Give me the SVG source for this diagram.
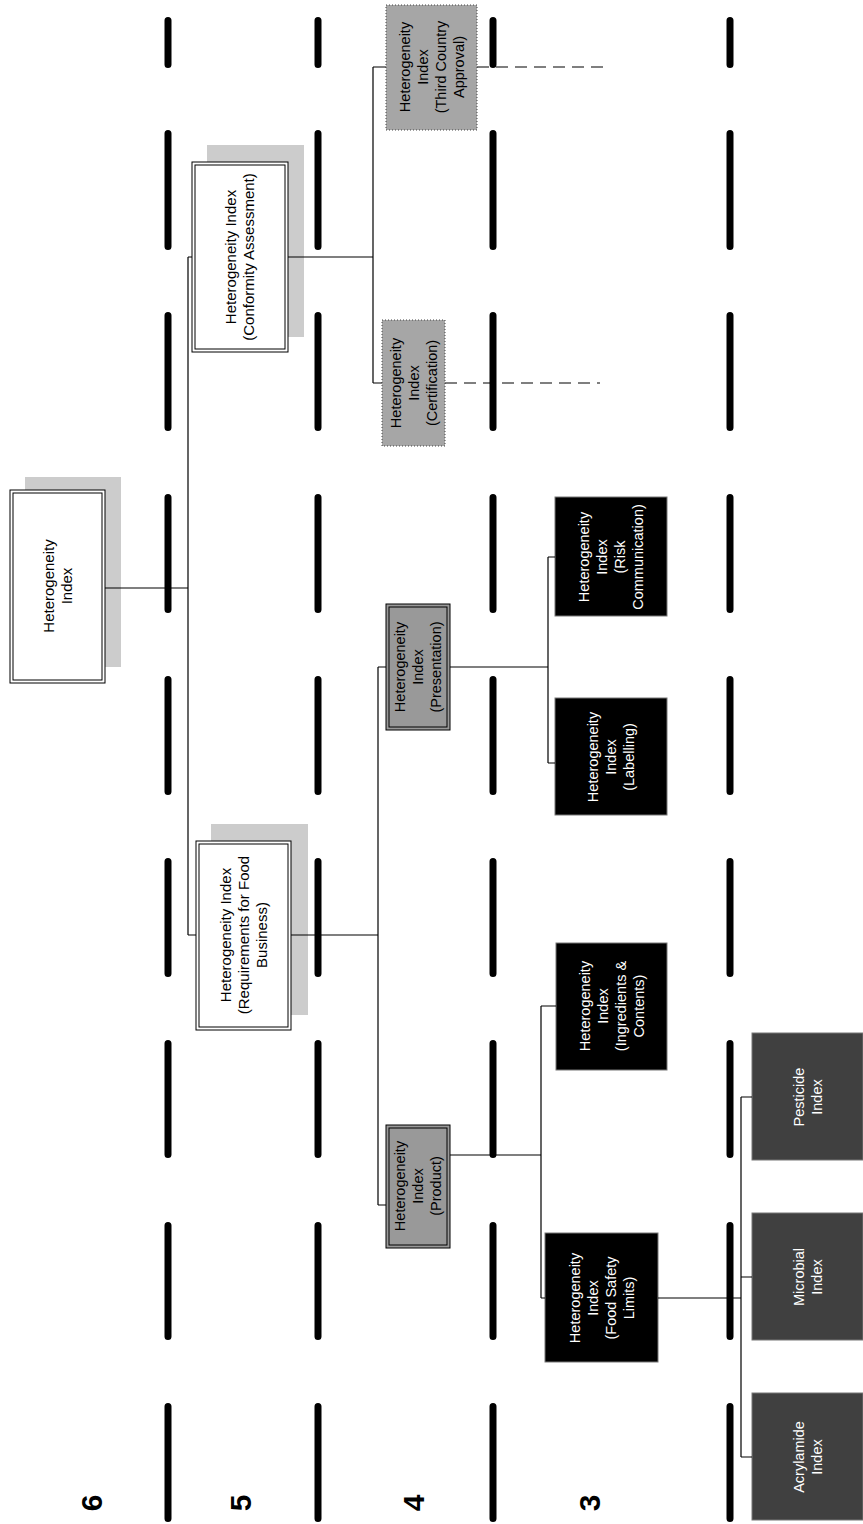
<svg xmlns="http://www.w3.org/2000/svg" width="863" height="1524" viewBox="0 0 863 1524">
<style>
.dash{stroke:#000;stroke-width:7;stroke-linecap:round;fill:none}
.conn{stroke:#000;stroke-width:1.2;fill:none}
.dconn{stroke:#000;stroke-width:1.2;fill:none;stroke-dasharray:12 7}
.shadow{fill:#cccccc}
.wbox{fill:#fff;stroke:#000;stroke-width:1}
.wboxin{fill:none;stroke:#000;stroke-width:1}
.gbox{fill:#999999;stroke:#000;stroke-width:1}
.gboxin{fill:none;stroke:#000;stroke-width:1}
.dotbox{fill:#a6a6a6;stroke:#444;stroke-width:1;stroke-dasharray:1 2}
.bbox{fill:#000;stroke:#777;stroke-width:1}
.dbox{fill:#404040;stroke:#777;stroke-width:1}
.t{font-family:"Liberation Sans",Arial,sans-serif;font-size:15px;text-anchor:middle;fill:#000}
.tw{font-family:"Liberation Sans",Arial,sans-serif;font-size:14.5px;text-anchor:middle;fill:#fff}
.tg{font-family:"Liberation Sans",Arial,sans-serif;font-size:14.5px;text-anchor:middle;fill:#000}
.lvl{font-family:"Liberation Sans",Arial,sans-serif;font-size:30px;font-weight:bold;text-anchor:middle;fill:#000}
</style>
<g id="level-bands">
<path class="dash" d="M168 20.5V64.5M168 133.5V246.5M168 315.5V427.5M168 497.5V609.5M168 679.5V791.5M168 861.5V973.5M168 1043.5V1154.5M168 1225.5V1336.5M168 1406.5V1518.5"/>
<path class="dash" d="M318 20.5V64.5M318 133.5V246.5M318 315.5V427.5M318 497.5V609.5M318 679.5V791.5M318 861.5V973.5M318 1043.5V1154.5M318 1225.5V1336.5M318 1406.5V1518.5"/>
<path class="dash" d="M493 20.5V64.5M493 133.5V246.5M493 315.5V427.5M493 497.5V609.5M493 679.5V791.5M493 861.5V973.5M493 1043.5V1154.5M493 1225.5V1336.5M493 1406.5V1518.5"/>
<path class="dash" d="M730 20.5V64.5M730 133.5V246.5M730 315.5V427.5M730 497.5V609.5M730 679.5V791.5M730 861.5V973.5M730 1043.5V1154.5M730 1225.5V1336.5M730 1406.5V1518.5"/>
</g>
<g id="level-labels">
<text class="lvl" transform="translate(102,1503) rotate(-90)">6</text>
<text class="lvl" transform="translate(251,1503) rotate(-90)">5</text>
<text class="lvl" transform="translate(424,1503) rotate(-90)">4</text>
<text class="lvl" transform="translate(600,1503) rotate(-90)">3</text>
<text class="lvl" transform="translate(822,1503) rotate(-90)">2</text>
</g>
<g id="node-root">
<rect class="shadow" x="25" y="477" width="96" height="190"/>
<rect class="wbox" x="10" y="490" width="95" height="193"/>
<rect class="wboxin" x="13" y="493" width="89" height="187"/>
<text class="t" transform="translate(57.5,586) rotate(-90)"><tspan x="0" y="-4">Heterogeneity</tspan><tspan x="0" y="14">Index</tspan></text>
</g>
<g id="node-conformity">
<rect class="shadow" x="207" y="145" width="97" height="192"/>
<rect class="wbox" x="192" y="162" width="96" height="190"/>
<rect class="wboxin" x="195" y="165" width="90" height="184"/>
<text class="t" transform="translate(240,257) rotate(-90)"><tspan x="0" y="-4">Heterogeneity Index</tspan><tspan x="0" y="14">(Conformity Assessment)</tspan></text>
</g>
<g id="node-third-country">
<rect class="dotbox" x="386" y="5" width="91" height="125"/>
<text class="tg" transform="translate(431.5,67) rotate(-90)"><tspan x="0" y="-22">Heterogeneity</tspan><tspan x="0" y="-4">Index</tspan><tspan x="0" y="14">(Third Country</tspan><tspan x="0" y="32">Approval)</tspan></text>
</g>
<g id="node-certification">
<rect class="dotbox" x="382" y="320" width="63" height="126"/>
<text class="tg" transform="translate(413.5,383) rotate(-90)"><tspan x="0" y="-13">Heterogeneity</tspan><tspan x="0" y="5">Index</tspan><tspan x="0" y="23">(Certification)</tspan></text>
</g>
<g id="node-requirements">
<rect class="shadow" x="211" y="824" width="97" height="191"/>
<rect class="wbox" x="196" y="841" width="95" height="189"/>
<rect class="wboxin" x="199" y="844" width="89" height="183"/>
<text class="t" transform="translate(243.5,935) rotate(-90)"><tspan x="0" y="-13">Heterogeneity Index</tspan><tspan x="0" y="5">(Requirements for Food</tspan><tspan x="0" y="23">Business)</tspan></text>
</g>
<g id="node-presentation">
<rect class="gbox" x="386" y="604" width="64" height="126"/>
<rect class="gboxin" x="389" y="607" width="58" height="120"/>
<text class="tg" transform="translate(418,667) rotate(-90)"><tspan x="0" y="-13">Heterogeneity</tspan><tspan x="0" y="5">Index</tspan><tspan x="0" y="23">(Presentation)</tspan></text>
</g>
<g id="node-product">
<rect class="gbox" x="386" y="1125" width="64" height="123"/>
<rect class="gboxin" x="389" y="1128" width="58" height="117"/>
<text class="tg" transform="translate(418,1186) rotate(-90)"><tspan x="0" y="-13">Heterogeneity</tspan><tspan x="0" y="5">Index</tspan><tspan x="0" y="23">(Product)</tspan></text>
</g>
<g id="node-risk">
<rect class="bbox" x="555" y="497" width="112" height="119"/>
<text class="tw" transform="translate(611,557) rotate(-90)"><tspan x="0" y="-22">Heterogeneity</tspan><tspan x="0" y="-4">Index</tspan><tspan x="0" y="14">(Risk</tspan><tspan x="0" y="32">Communication)</tspan></text>
</g>
<g id="node-labelling">
<rect class="bbox" x="555" y="698" width="112" height="117"/>
<text class="tw" transform="translate(611,757) rotate(-90)"><tspan x="0" y="-13">Heterogeneity</tspan><tspan x="0" y="5">Index</tspan><tspan x="0" y="23">(Labelling)</tspan></text>
</g>
<g id="node-ingredients">
<rect class="bbox" x="556" y="943" width="111" height="127"/>
<text class="tw" transform="translate(611.5,1006) rotate(-90)"><tspan x="0" y="-22">Heterogeneity</tspan><tspan x="0" y="-4">Index</tspan><tspan x="0" y="14">(Ingredients &amp;</tspan><tspan x="0" y="32">Contents)</tspan></text>
</g>
<g id="node-food-safety">
<rect class="bbox" x="545" y="1233" width="113" height="129"/>
<text class="tw" transform="translate(601.5,1298) rotate(-90)"><tspan x="0" y="-22">Heterogeneity</tspan><tspan x="0" y="-4">Index</tspan><tspan x="0" y="14">(Food Safety</tspan><tspan x="0" y="32">Limits)</tspan></text>
</g>
<g id="node-pesticide">
<rect class="dbox" x="752" y="1033" width="111" height="127"/>
<text class="tw" transform="translate(807.5,1097) rotate(-90)"><tspan x="0" y="-4">Pesticide</tspan><tspan x="0" y="14">Index</tspan></text>
</g>
<g id="node-microbial">
<rect class="dbox" x="752" y="1213" width="111" height="127"/>
<text class="tw" transform="translate(807.5,1277) rotate(-90)"><tspan x="0" y="-4">Microbial</tspan><tspan x="0" y="14">Index</tspan></text>
</g>
<g id="node-acrylamide">
<rect class="dbox" x="752" y="1393" width="111" height="127"/>
<text class="tw" transform="translate(807.5,1457) rotate(-90)"><tspan x="0" y="-4">Acrylamide</tspan><tspan x="0" y="14">Index</tspan></text>
</g>
<g id="connectors">
<path class="conn" d="M105 588H188M188 257V935M188 257H192M188 935H196"/>
<path class="conn" d="M288 257H373M373 67V383M373 67H386M373 383H382"/>
<path class="dconn" d="M477 67H607M445 383H600"/>
<path class="conn" d="M291 935H378M378 667V1205M378 667H386M378 1205H386"/>
<path class="conn" d="M450 667H548M548 557V763M548 557H555M548 763H555"/>
<path class="conn" d="M450 1155H541M541 1006V1298M541 1006H556M541 1298H545"/>
<path class="conn" d="M658 1298H741M741 1097V1457M741 1097H752M741 1277H752M741 1457H752"/>
</g>
</svg>
